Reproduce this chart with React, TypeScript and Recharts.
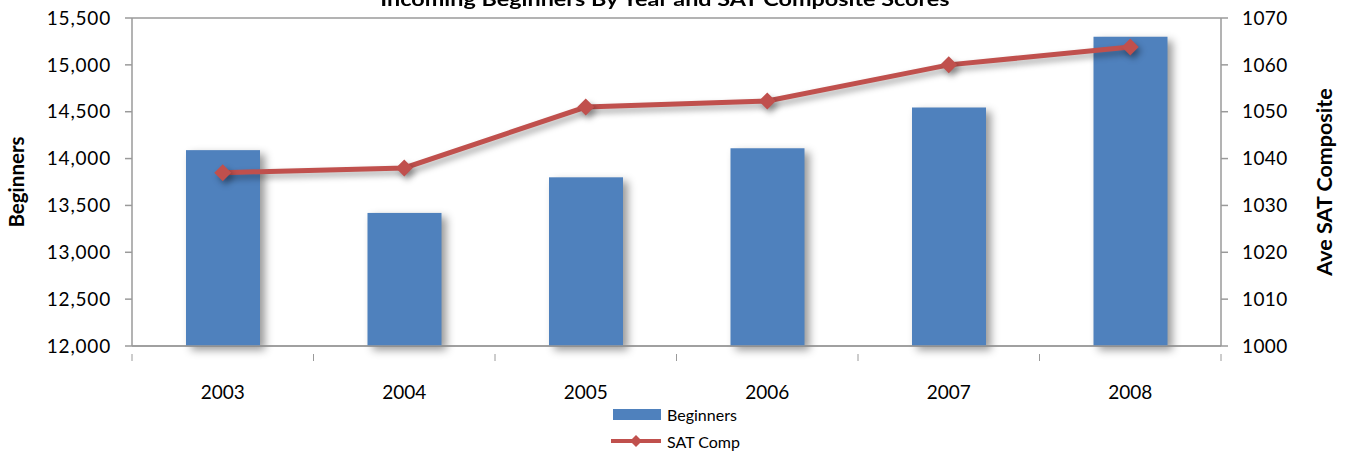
import { Bar, CartesianGrid, ComposedChart, Line, XAxis, YAxis } from 'recharts';

const years = ['2003', '2004', '2005', '2006', '2007', '2008'];
const beginners = [14090, 13420, 13800, 14110, 14545, 15300];
const satComp = [1037, 1038, 1051, 1052.3, 1060, 1063.8];
const leftTicks = [12000, 12500, 13000, 13500, 14000, 14500, 15000, 15500];
const rightTicks = [1000, 1010, 1020, 1030, 1040, 1050, 1060, 1070];
const seriesNames = ['Beginners', 'SAT Comp'];
const title = 'Incoming Beginners By Year and SAT Composite Scores';

const data = years.map((y, i) => ({ year: y, beginners: beginners[i], sat: satComp[i] }));

const W = 1349;
const H = 453;
const LEFT_W = 132;
const RIGHT_W = 128;
const BAND = (W - LEFT_W - RIGHT_W) / years.length;
const FONT = 'Lato, "Open Sans", sans-serif';
const GRID = '#9a9a9a';
const BLUE = '#4F81BD';
const RED = '#C0504D';

function Diamond(props: any) {
  const { cx, cy } = props;
  if (cx == null || cy == null) return null;
  const r = 8.5;
  return (
    <polygon
      points={`${cx},${cy - r} ${cx + r},${cy} ${cx},${cy + r} ${cx - r},${cy}`}
      fill={RED}
      style={{ filter: 'drop-shadow(3px 4px 3px rgba(0,0,0,0.35))' }}
    />
  );
}

function ShadowBar(props: any) {
  const { x, y, width, height } = props;
  return (
    <rect
      x={x}
      y={y}
      width={width}
      height={height}
      fill={BLUE}
      style={{ filter: 'drop-shadow(5px 4px 4px rgba(0,0,0,0.4))' }}
    />
  );
}

function YearTick(props: any) {
  const { x, y, payload } = props;
  const left = x - BAND / 2;
  return (
    <g>
      <line x1={left} x2={left} y1={y} y2={y + 7} stroke={GRID} />
      {payload.index === years.length - 1 ? (
        <line x1={x + BAND / 2} x2={x + BAND / 2} y1={y} y2={y + 7} stroke={GRID} />
      ) : null}
      <text x={x} y={y + 37} textAnchor="middle" dominantBaseline="central" fontSize={19} fill="#000" fontFamily={FONT}>
        {payload.value}
      </text>
    </g>
  );
}

export default function App() {
  return (
    <div style={{ position: 'fixed', left: 0, top: 0, width: W, height: H, background: '#fff', overflow: 'hidden', fontFamily: FONT }}>
      <style>{`.recharts-line-curve { filter: drop-shadow(3px 4px 3px rgba(0,0,0,0.35)); }`}</style>
      <div
        style={{
          position: 'absolute',
          top: -13,
          left: 0,
          width: 1330,
          textAlign: 'center',
          fontWeight: 700,
          fontSize: 19,
          lineHeight: '24px',
          color: '#000',
          transform: 'scaleX(1.23)',
          transformOrigin: '665px 0',
        }}
      >
        {title}
      </div>
      <ComposedChart width={W} height={H} data={data} margin={{ top: 18, right: 0, left: 0, bottom: 77 }} barCategoryGap={0}>
        <CartesianGrid horizontal vertical={false} stroke={GRID} strokeWidth={1.5} />
        <XAxis dataKey="year" height={30} stroke={GRID} strokeWidth={1.5} tickLine={false} tick={<YearTick />} interval={0} />
        <YAxis
          yAxisId="left"
          width={LEFT_W}
          domain={[12000, 15500]}
          ticks={leftTicks}
          interval={0}
          stroke={GRID}
          strokeWidth={1.5}
          tickSize={7}
          tickMargin={14}
          tickFormatter={(v: number) => v.toLocaleString('en-US')}
          tick={{ fill: '#000', fontSize: 19, fontFamily: FONT, letterSpacing: 0.8 }}
          label={{
            value: 'Beginners',
            angle: -90,
            position: 'insideLeft',
            dx: 12,
            style: { fontWeight: 700, fontSize: 20.5, fill: '#000', fontFamily: FONT, textAnchor: 'middle' },
          }}
        />
        <YAxis
          yAxisId="right"
          orientation="right"
          width={RIGHT_W}
          domain={[1000, 1070]}
          ticks={rightTicks}
          interval={0}
          stroke={GRID}
          strokeWidth={1.5}
          tickSize={7}
          tickMargin={14}
          tick={{ fill: '#000', fontSize: 19, fontFamily: FONT, letterSpacing: 0.4 }}
          label={{
            value: 'Ave SAT Composite',
            angle: -90,
            position: 'insideRight',
            dx: -20,
            style: { fontWeight: 700, fontSize: 21.5, fill: '#000', fontFamily: FONT, textAnchor: 'middle' },
          }}
        />
        <Bar yAxisId="left" dataKey="beginners" name={seriesNames[0]} barSize={74} shape={<ShadowBar />} isAnimationActive={false} />
        <Line
          yAxisId="right"
          dataKey="sat"
          name={seriesNames[1]}
          stroke={RED}
          strokeWidth={5}
          dot={<Diamond />}
          activeDot={false}
          isAnimationActive={false}
        />
      </ComposedChart>
      <div style={{ position: 'absolute', left: 611, top: 404, fontSize: 16, color: '#000' }}>
        <div style={{ display: 'flex', alignItems: 'center', height: 20 }}>
          <span style={{ display: 'inline-block', width: 48, height: 11, background: BLUE, marginRight: 6, marginLeft: 2 }} />
          {seriesNames[0]}
        </div>
        <div style={{ display: 'flex', alignItems: 'center', height: 20, marginTop: 7 }}>
          <svg width={56} height={14} style={{ marginRight: 0 }}>
            <line x1={0} x2={50} y1={7} y2={7} stroke={RED} strokeWidth={4} />
            <polygon points="25,1 31,7 25,13 19,7" fill={RED} />
          </svg>
          {seriesNames[1]}
        </div>
      </div>
    </div>
  );
}
